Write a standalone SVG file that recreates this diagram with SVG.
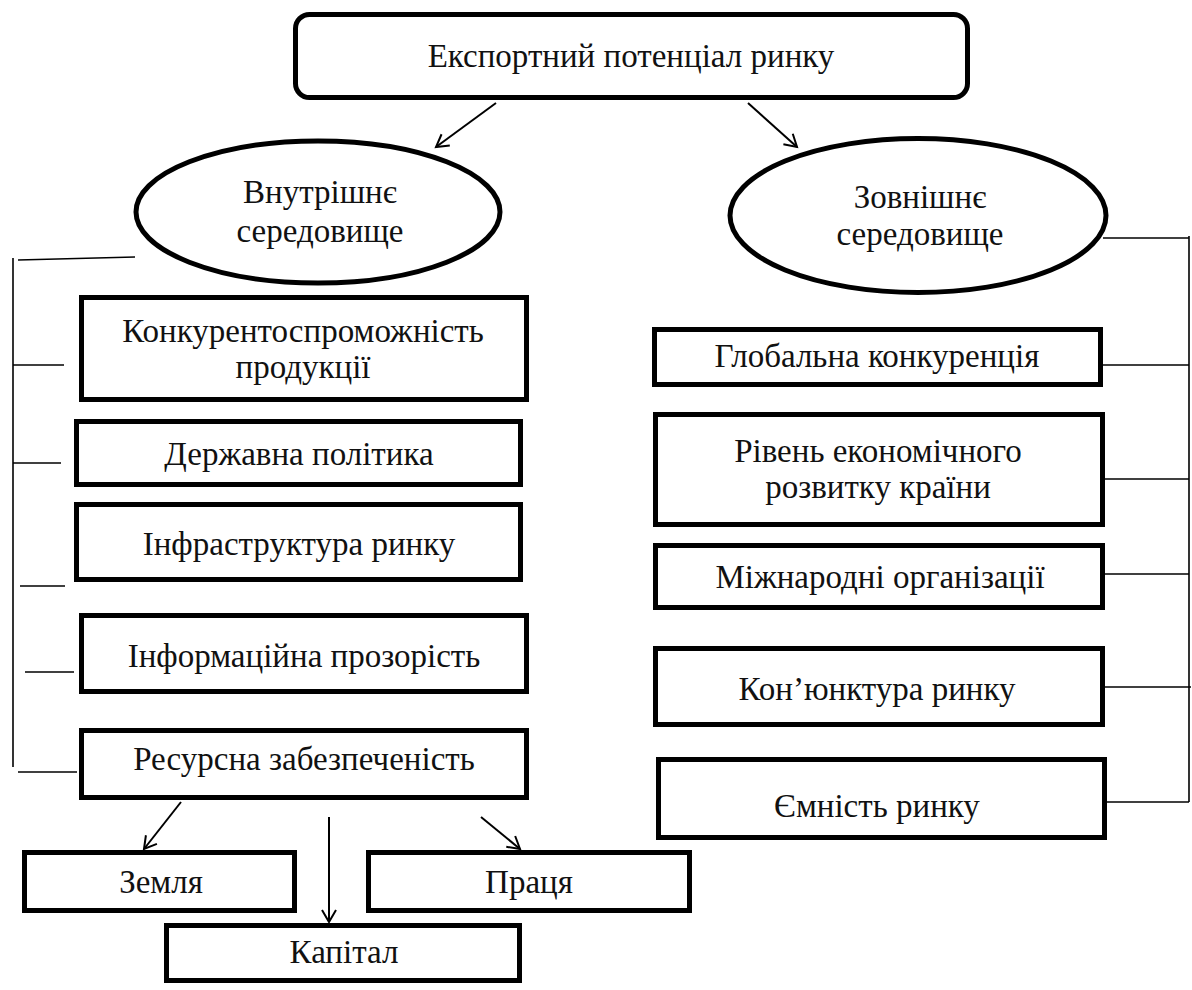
<svg xmlns="http://www.w3.org/2000/svg" width="1192" height="990" viewBox="0 0 1192 990">
<defs>
<style>
.box{fill:#fff;stroke:#000;stroke-width:5}
.oval{fill:#fff;stroke:#000;stroke-width:5}
.t{font-family:'Liberation Serif','Times New Roman',serif;font-size:33px;fill:#111;text-anchor:middle}
.ln{stroke:#000;stroke-width:1.6;fill:none}
.ar{stroke:#000;stroke-width:2;fill:none;marker-end:url(#ah)}
</style>
<marker id="ah" markerUnits="userSpaceOnUse" markerWidth="20" markerHeight="20" refX="14" refY="8" orient="auto" viewBox="0 0 20 16">
<path d="M2,1 L14,8 L2,15" fill="none" stroke="#000" stroke-width="2"/>
</marker>
</defs>
<rect width="1192" height="990" fill="#fff"/>
<g id="connectors">
<line class="ar" x1="496" y1="103" x2="436" y2="147"/>
<line class="ar" x1="748" y1="103" x2="797" y2="147"/>
<line class="ln" x1="18" y1="260" x2="135" y2="257"/>
<line class="ln" x1="13" y1="258" x2="13" y2="767"/>
<line class="ln" x1="13" y1="365" x2="64" y2="365"/>
<line class="ln" x1="13" y1="463" x2="61" y2="463"/>
<line class="ln" x1="20" y1="586" x2="65" y2="586"/>
<line class="ln" x1="25" y1="672" x2="74" y2="672"/>
<line class="ln" x1="18" y1="772" x2="77" y2="772"/>
<line class="ln" x1="1103" y1="238" x2="1189" y2="238"/>
<line class="ln" x1="1189" y1="236" x2="1189" y2="802"/>
<line class="ln" x1="1103" y1="365" x2="1189" y2="365"/>
<line class="ln" x1="1105" y1="479" x2="1189" y2="479"/>
<line class="ln" x1="1105" y1="574" x2="1189" y2="574"/>
<line class="ln" x1="1105" y1="687" x2="1191" y2="687"/>
<line class="ln" x1="1107" y1="802" x2="1189" y2="802"/>
<line class="ar" x1="181" y1="802" x2="144" y2="849"/>
<line class="ar" x1="329" y1="817" x2="329" y2="922"/>
<line class="ar" x1="481" y1="817" x2="520" y2="849"/>
</g>
<g id="top">
<rect class="box" x="295.5" y="14.5" width="672" height="83" rx="14"/>
<text class="t" x="631" y="67">Експортний потенціал ринку</text>
</g>
<g id="inner">
<ellipse class="oval" cx="318" cy="212" rx="182" ry="71"/>
<text class="t" x="320" y="203">Внутрішнє</text>
<text class="t" x="320" y="242">середовище</text>
</g>
<g id="outer">
<ellipse class="oval" cx="918" cy="215.5" rx="188" ry="77"/>
<text class="t" x="920" y="208">Зовнішнє</text>
<text class="t" x="920" y="245">середовище</text>
</g>
<g id="n-konk">
<rect class="box" x="81.5" y="297.5" width="445" height="102"/>
<text class="t" x="303" y="342">Конкурентоспроможність</text>
<text class="t" x="303" y="378">продукції</text>
</g>
<g id="n-derzh">
<rect class="box" x="76.5" y="421.5" width="444" height="63"/>
<text class="t" x="299" y="465">Державна політика</text>
</g>
<g id="n-infra">
<rect class="box" x="76.5" y="504.5" width="444" height="75"/>
<text class="t" x="299" y="555">Інфраструктура ринку</text>
</g>
<g id="n-inform">
<rect class="box" x="81.5" y="615.5" width="445" height="76"/>
<text class="t" x="304" y="667">Інформаційна прозорість</text>
</g>
<g id="n-resurs">
<rect class="box" x="81.5" y="730.5" width="445" height="67"/>
<text class="t" x="304" y="770">Ресурсна забезпеченість</text>
</g>
<g id="n-zemlia">
<rect class="box" x="24.5" y="852.5" width="270" height="58"/>
<text class="t" x="161" y="893">Земля</text>
</g>
<g id="n-pratsia">
<rect class="box" x="368.5" y="852.5" width="321" height="58"/>
<text class="t" x="529" y="893">Праця</text>
</g>
<g id="n-kapital">
<rect class="box" x="166.5" y="925.5" width="353" height="55"/>
<text class="t" x="344" y="963">Капітал</text>
</g>
<g id="n-global">
<rect class="box" x="654.5" y="329.5" width="446" height="55"/>
<text class="t" x="877" y="367">Глобальна конкуренція</text>
</g>
<g id="n-riven">
<rect class="box" x="655.5" y="414.5" width="447" height="110"/>
<text class="t" x="878" y="462">Рівень економічного</text>
<text class="t" x="878" y="498">розвитку країни</text>
</g>
<g id="n-mizhn">
<rect class="box" x="655.5" y="545.5" width="447" height="62"/>
<text class="t" x="880" y="588">Міжнародні організації</text>
</g>
<g id="n-kon">
<rect class="box" x="655.5" y="648.5" width="447" height="76"/>
<text class="t" x="877" y="700">Кон’юнктура ринку</text>
</g>
<g id="n-yemn">
<rect class="box" x="658.5" y="759.5" width="446" height="78"/>
<text class="t" x="877" y="817">Ємність ринку</text>
</g>
</svg>
